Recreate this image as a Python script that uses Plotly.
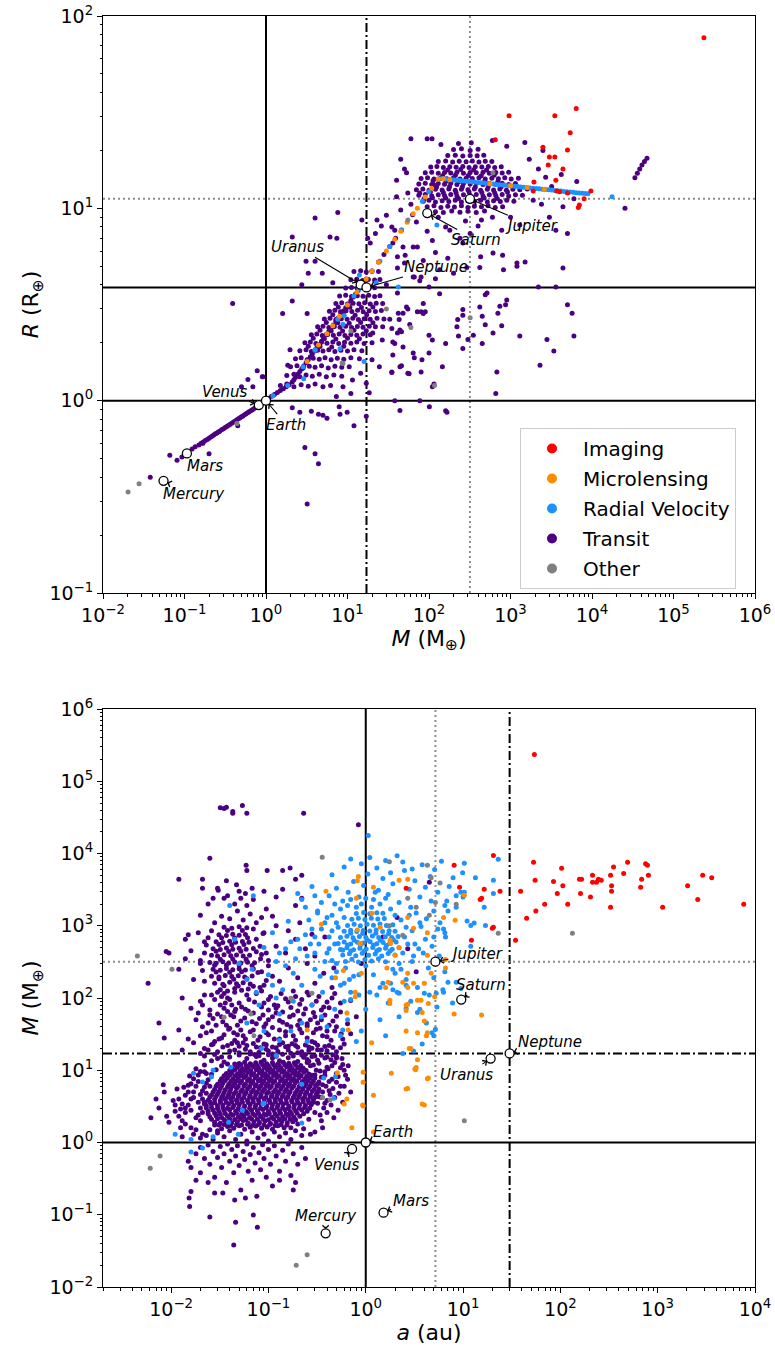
import numpy as np
import plotly.graph_objects as go

FONT = "DejaVu Sans, sans-serif"

method_names = ["Imaging", "Microlensing", "Radial Velocity", "Transit", "Other"]
method_colors = ["#ff0000", "#ff8c00", "#1e90ff", "#4b0082", "#808080"]

# Solar System reference bodies
planet_names = ["Mercury", "Venus", "Earth", "Mars", "Jupiter", "Saturn", "Uranus", "Neptune"]
planet_mass = [0.0553, 0.815, 1.0, 0.107, 317.8, 95.2, 14.5, 17.1]
planet_radius = [0.383, 0.949, 1.0, 0.532, 11.21, 9.45, 4.01, 3.88]
planet_a = [0.387, 0.723, 1.0, 1.524, 5.20, 9.58, 19.2, 30.1]

# reference lines (Earth / Neptune / Jupiter values)
top_vlines = [(1.0, "solid"), (17.1, "dashdot"), (317.8, "dot")]
top_hlines = [(1.0, "solid"), (3.88, "solid"), (11.21, "dot")]
bot_vlines = [(1.0, "solid"), (5.2, "dot"), (30.1, "dashdot")]
bot_hlines = [(1.0, "solid"), (17.1, "dashdot"), (317.8, "dot")]

# ---------------- TOP PANEL: (mass, radius) ----------------
top_transit_line = [
 (0.124,0.56),(0.135,0.576),(0.15,0.589),(0.16,0.6),(0.17,0.61),(0.18,0.62),(0.19,0.629),(0.2,0.638),
 (0.21,0.647),(0.22,0.655),(0.23,0.664),(0.24,0.672),(0.25,0.679),(0.26,0.687),(0.27,0.694),(0.285,0.705),
 (0.3,0.715),(0.315,0.725),(0.33,0.734),(0.345,0.743),(0.36,0.752),(0.38,0.764),(0.4,0.774),(0.42,0.785),
 (0.44,0.795),(0.46,0.805),(0.48,0.815),(0.5,0.824),(0.52,0.833),(0.545,0.844),(0.57,0.855),(0.595,0.865),
 (0.62,0.875),(0.65,0.887),(0.68,0.898),(0.71,0.909),(0.74,0.92),(0.77,0.93),(0.8,0.94),(0.83,0.95),
 (0.86,0.959),(0.92,0.977),(1.0,1.0),(1.08,1.03),(1.17,1.053),(1.27,1.078),(1.38,1.103),(1.5,1.129),
 (1.63,1.155),(1.77,1.182),(1.92,1.21),(2.1,1.251),(2.2,1.285),(2.3,1.32),(2.45,1.37),(2.6,1.419),
 (2.75,1.466),(2.9,1.513),(3.1,1.573),(3.3,1.632),(3.5,1.69),(3.7,1.746),(3.95,1.815),(4.2,1.881),
 (4.5,1.96),(4.8,2.035),(5.1,2.11),(5.5,2.206),(5.9,2.298),(6.3,2.389),(6.7,2.477),(7.2,2.585),
 (7.7,2.688),(8.3,2.81),(8.9,2.929),(9.5,3.043),(10.2,3.173),(11,3.318),(11.8,3.457),(12.5,3.577),
 (13.5,3.743),(14.5,3.9),(15.7,4.09),(17,4.286),(20,4.717),(24,5.253),(28,5.752),(33,6.336),(39,6.992),
 (46,7.706),(63,9.27),(87,11.22),(115,13.22),
]
top_transit_small = [
 (0.066,0.52),(0.081,0.49),(0.093,0.51),(0.038,0.4),(0.2,0.53),(0.168,0.6),(0.45,0.74),(0.78,1.43),
 (0.6,1.29),(0.69,1.18),(0.92,1.33),(0.5,1.18),(2.1,0.92),(3.0,0.57),(4.0,0.53),(4.4,0.47),(3.2,0.29),
 (3.6,0.88),(12,0.74),(8.1,0.85),(17,0.83),(4.4,0.85),(5.0,0.84),(5.6,0.81),(7.9,0.93),(9.9,0.87),
 (2.6,0.87),(0.39,3.2),
]
top_transit_hj = [
 (120,9.6),(150,9.5),(190,9.7),(240,9.55),(300,9.65),(380,9.5),(480,9.7),
 (95,10.2),(115,10.3),(140,10.1),(170,10.25),(205,10.15),(250,10.3),(300,10.1),(360,10.25),(440,10.2),(530,10.3),(650,10.1),(800,10.2),
 (85,10.9),(100,11.0),(120,10.8),(145,10.95),(175,10.85),(210,11.0),(250,10.8),(300,10.95),(360,10.9),(430,11.0),(520,10.8),(620,10.95),(750,10.85),(900,11.0),(1100,10.9),
 (75,11.7),(90,11.8),(108,11.6),(130,11.75),(155,11.65),(185,11.8),(220,11.6),(265,11.75),(320,11.7),(380,11.8),(460,11.6),(550,11.75),(660,11.65),(790,11.8),(950,11.6),(1150,11.75),(1400,11.7),
 (70,12.5),(84,12.6),(100,12.4),(120,12.55),(145,12.45),(175,12.6),(210,12.4),(250,12.55),(300,12.5),(360,12.6),(430,12.4),(520,12.55),(620,12.45),(740,12.6),(890,12.4),(1070,12.55),(1300,12.5),(1600,12.6),
 (75,13.4),(90,13.5),(108,13.3),(130,13.45),(155,13.35),(185,13.5),(220,13.3),(265,13.45),(320,13.4),(380,13.5),(460,13.3),(550,13.45),(660,13.35),(790,13.5),(950,13.3),(1150,13.45),
 (80,14.3),(96,14.4),(115,14.2),(138,14.35),(165,14.25),(200,14.4),(240,14.2),(285,14.35),(340,14.3),(410,14.4),(490,14.2),(590,14.35),(710,14.25),(850,14.4),(1020,14.2),(1250,14.35),
 (90,15.3),(108,15.4),(130,15.2),(155,15.35),(185,15.25),(220,15.4),(265,15.2),(320,15.35),(380,15.3),(460,15.4),(550,15.2),(660,15.35),(790,15.25),(950,15.4),
 (105,16.4),(125,16.5),(150,16.3),(180,16.45),(215,16.35),(260,16.5),(310,16.3),(370,16.45),(445,16.4),(535,16.5),(640,16.3),(770,16.45),
 (130,17.5),(160,17.6),(195,17.4),(235,17.55),(285,17.45),(340,17.6),(410,17.4),(490,17.55),(590,17.5),
 (170,18.8),(210,18.9),(260,18.7),(320,18.85),(390,18.75),(470,18.9),
 (200,20.2),(250,20.4),(320,20.0),(400,20.3),
 (230,21.7),(330,21.9),
]
top_transit_hj_mid = [
 (110,11.35),(160,11.3),(230,11.25),(330,11.35),(475,11.3),(685,11.25),
 (104,12.15),(150,12.1),(215,12.05),(310,12.15),(445,12.1),(640,12.05),(920,12.15),
 (124,12.9),(179,13.0),(257,12.95),(370,12.9),(533,13.0),(768,12.95),
 (112,13.9),(162,13.85),(234,13.8),(336,13.9),(484,13.85),(700,13.8),
 (147,14.75),(211,14.85),(304,14.8),(438,14.75),(630,14.85),
 (170,15.8),(245,15.9),(353,15.85),(508,15.8),
]
top_transit_cloud = [
 (1.5,1.2),(1.8,1.22),(2.2,1.18),(2.7,1.21),(3.3,1.19),(4.0,1.22),(5.0,1.18),(6.2,1.2),
 (1.8,1.35),(2.2,1.37),(2.6,1.33),(3.1,1.36),(3.7,1.34),(4.5,1.37),(5.5,1.33),(6.8,1.36),(8.5,1.34),
 (2.0,1.5),(2.4,1.52),(2.85,1.48),(3.4,1.51),(4.0,1.49),(4.8,1.52),(5.8,1.48),(7.0,1.51),(8.5,1.49),(10.5,1.5),
 (2.3,1.65),(2.7,1.67),(3.2,1.63),(3.8,1.66),(4.5,1.64),(5.3,1.67),(6.3,1.63),(7.5,1.66),(9.0,1.64),(11,1.67),(14,1.65),
 (2.6,1.82),(3.1,1.84),(3.6,1.8),(4.3,1.83),(5.0,1.81),(5.9,1.84),(7.0,1.8),(8.3,1.83),(10,1.81),(12,1.84),(15,1.82),
 (3.0,2.0),(3.5,2.02),(4.1,1.98),(4.8,2.01),(5.6,1.99),(6.6,2.02),(7.8,1.98),(9.2,2.01),(11,1.99),(13,2.02),(16,1.98),(20,2.0),
 (3.6,2.2),(4.2,2.22),(4.9,2.18),(5.7,2.21),(6.7,2.19),(7.9,2.22),(9.3,2.18),(11,2.21),(13,2.19),(15.5,2.22),(19,2.2),
 (4.3,2.42),(5.0,2.44),(5.9,2.4),(6.9,2.43),(8.1,2.41),(9.5,2.44),(11.2,2.4),(13.2,2.43),(15.5,2.41),(18.5,2.44),(22,2.42),
 (5.2,2.66),(6.1,2.68),(7.2,2.64),(8.4,2.67),(9.9,2.65),(11.6,2.68),(13.6,2.64),(16,2.67),(19,2.65),(23,2.68),(28,2.66),
 (6.0,2.92),(7.0,2.95),(8.2,2.9),(9.6,2.93),(11.3,2.91),(13.3,2.95),(15.6,2.9),(18.4,2.93),(22,2.91),(26,2.94),
 (7.2,3.2),(8.5,3.23),(10,3.18),(11.7,3.21),(13.8,3.19),(16.2,3.23),(19,3.18),(22.5,3.21),(27,3.2),
 (8.0,3.5),(9.5,3.53),(11.2,3.48),(13.2,3.51),(15.5,3.49),(18.2,3.53),(21.5,3.48),(25,3.51),
 (9.5,3.85),(11.2,3.88),(13.2,3.83),(15.5,3.86),(18.3,3.84),(21.5,3.87),
 (11,4.25),(13,4.28),(15.3,4.22),(18,4.26),(21.5,4.24),(25,4.27),
 (12,4.7),(14.5,4.73),(17,4.67),(20,4.71),(24,4.69),
]
top_transit_cloud_mid = [
 (3.3,1.92),(4.6,1.91),(6.4,1.9),(9.0,1.92),
 (3.8,2.11),(5.2,2.1),(7.2,2.09),(10,2.11),(14,2.1),
 (4.6,2.32),(6.3,2.31),(8.7,2.3),(12,2.32),(17,2.31),
 (5.5,2.55),(7.6,2.54),(10.5,2.53),(14.5,2.55),(20.5,2.54),
 (6.6,2.8),(9.0,2.79),(12.4,2.78),(17.2,2.8),
 (7.7,3.07),(10.7,3.06),(14.8,3.05),(20.5,3.07),
]
top_transit_sparse = [
 (109,23),(53,15.3),(38,7.7),(77,12),(6500,13.8),(25400,10),(33600,14.4),(36000,15.2),(38500,16),
 (41000,16.8),(44000,17.5),(47300,18.2),(4400,10.2),(4400,4.9),(5000,3.15),(5700,2.85),(3600,3.9),
 (2200,3.9),(1510,5.26),(1200,5.0),(800,5.7),(780,7.7),(430,5.6),(280,8.6),(440,8.7),(170,5.5),
 (120,5.9),(72,6.3),(51,5.7),(41,5.6),(66,4.4),(80,4.4),(120,4.3),(490,3.55),(260,2.98),(225,2.64),
 (740,3.1),(870,3.15),(450,2.75),(490,2.48),
 (6000,2.17),(2800,2.08),(3400,1.81),(2300,1.53),(1300,2.17),(700,2.85),(780,2.45),(610,2.25),
 (450,1.98),(680,1.41),(660,1.09),(350,2.19),(300,2.08),(230,2.17),(260,1.87),(160,1.98),(115,1.22),
 (160,0.885),(100,2.19),(110,2.07),(100,1.77),(80,1.41),(66,1.67),(57,1.38),(46,1.52),(35,1.4),
 (36,1.73),(42,2.85),(48,2.85),(55,3.0),(43,2.64),(46,2.28),(41,2.25),(35,2.37),(33,2.65),(38,1.98),
 (80,2.9),(90,2.9),(85,3.2),
 (4.0,8.9),(7.6,9.5),(2.1,7.1),(6.1,7.1),(7.4,7.0),(4.0,5.3),(3.3,4.6),(2.75,4.0),(4.9,4.6),(6.6,4.1),
 (1.6,2.84),(15,8.7),(23,8.7),(17.7,7.0),(3.1,5.3),(2.1,3.3),(3.2,2.84),(1.97,1.84),(1.85,1.53),(0.9,1.33),
 (30,4.0),(41,3.63),(53,3.07),(72,2.9),(85,2.84),(58,2.49),(44,2.33),(27,2.42),(20.4,2.25),(26.7,2.07),
 (36,2.02),(48,1.9),(64,1.77),(82,1.63),(20,1.63),(24.6,1.5),(35,1.41),(44,1.5),(55,1.39),(14.5,1.39),
 (11.5,1.28),(17,1.23),(11,1.09),(8.8,1.18),(7.3,1.05),(18.5,1.1),(38,1.0),(44,0.89),(77,1.0),(101,0.93),
 (166,0.87),(110,1.18),(146,1.5),(220,2.42),(260,2.78),(420,3.07),(515,3.63),(900,3.34),(820,4.8),
 (1200,5.2),(610,5.85),(420,4.93),(290,4.93),(200,4.6),(135,4.8),(135,3.6),(100,3.9),(77,4.2),(64,4.4),
 (85,5.35),(50,5.2),(41,4.9),(64,6.3),(48,6.3),(36,6.6),(110,6.8),(180,7.7),(260,6.6),
 (2500,20),(1700,18),(2200,16),(2700,14.5),(1900,11),(2400,10.5),(3200,13),(4200,15),(1500,22),
 (900,21),(600,22.5),(60,23),(95,23),(140,21.5),(50,16),(45,18),(40,14),(55,12),(3000,9),(6000,11.2),
 (5000,7.4),(3600,7.7),(30,9.2),(26,8.1),(22,7.4),(19,6.6),(35,8.0),(45,9.8),(60,10.5),(40,11.5),
 (70,8.5),(95,7.6),(130,9.0),(160,8.0),(240,7.0),(320,7.4),(400,8.1),(600,9.0),(1000,9.0),(1300,8.2),
]
top_rv = [
 (1.22,1.06),(1.85,1.2),(2.85,1.5),(4.0,1.83),(7.6,2.65),(12,3.5),(13.8,3.8),(20,4.72),(33,6.34),
 (46,7.7),(83,10.9),(100,12.2),(130,14.2),
 (140,14.27),(150,14.23),(160,14.19),(175,14.13),(190,14.08),(205,14.04),(220,13.99),(240,13.94),
 (260,13.89),(285,13.84),(310,13.78),(335,13.74),(365,13.69),(400,13.63),(435,13.58),(475,13.53),
 (520,13.47),(565,13.42),(615,13.37),(670,13.32),(730,13.27),(800,13.22),(870,13.17),(950,13.12),
 (1040,13.07),(1130,13.02),(1230,12.97),(1340,12.92),(1460,12.87),(1600,12.82),(1740,12.77),
 (1900,12.72),(2070,12.68),(2260,12.63),(2460,12.58),(2690,12.53),(2930,12.49),(3200,12.44),
 (3490,12.39),(3800,12.34),(4150,12.3),(4520,12.25),(4930,12.2),(5380,12.15),(5870,12.11),
 (6400,12.06),(6980,12.02),(7610,11.97),(8300,11.93),(8900,11.89),(17600,11.5),
 (125,8.2),(22.5,4.1),(9.1,2.76),(42,3.9),(8.8,2.5),(4.0,1.84),(2.9,1.3),(16,1.6),(8.1,1.86),
 (14,4.5),(25,5.3),
]
top_micro = [
 (3.2,1.6),(4.4,1.95),(5.6,2.23),(6.6,2.45),(8,2.75),(10,3.14),(13,3.66),(17,4.29),(20,4.72),
 (24,5.25),(30,6.0),(38,6.9),(45,7.6),(54,8.47),(64,9.36),(72,10.0),(90,11.45),(108,12.7),(130,14.2),
 (150,14.23),(180,14.1),(560,13.43),(1000,13.1),(1600,12.82),(2600,12.55),
]
top_imaging = [
 (236000,77),(960,30.3),(3500,30.3),(6400,33),(5400,24.7),(5000,20.1),(650,22.7),(2500,20.8),
 (3000,18.5),(3500,18.5),(2900,16.8),(4400,16),(3600,14),(1940,13.7),(1900,12.3),(3700,12.3),
 (4000,12.2),(5000,12.0),(9700,12.3),(8000,11.2),(7000,10.4),(6800,10.1),
]
top_other = [
 (0.0203,0.335),(0.0277,0.37),(0.44,0.76),(8.6,1.57),(30,3.0),(11,2.3),(60,2.4),(117,1.2),
 (320,2.7),(55,8.7),(8.8,1.56),(610,15.3),
]

# ---------------- BOTTOM PANEL: (semi-major axis, mass) ----------------
bot_transit_core = [
 (0.033,1.55),(0.038,1.66),(0.044,1.58),(0.05,1.7),(0.057,1.52),(0.065,1.63),(0.074,1.69),(0.085,1.57),(0.097,1.64),(0.11,1.53),(0.125,1.71),(0.145,1.6),
 (0.028,1.9),(0.032,1.84),(0.037,1.96),(0.042,1.87),(0.048,1.93),(0.055,2.01),(0.062,1.85),(0.071,1.94),(0.081,1.89),(0.092,1.98),(0.105,1.83),(0.12,1.91),(0.137,1.96),(0.156,1.87),(0.178,1.93),
 (0.025,2.28),(0.029,2.35),(0.033,2.22),(0.038,2.31),(0.043,2.38),(0.049,2.25),(0.056,2.33),(0.064,2.21),(0.073,2.36),(0.083,2.29),(0.095,2.4),(0.108,2.24),(0.123,2.32),(0.14,2.27),(0.16,2.37),(0.183,2.23),(0.21,2.3),
 (0.024,2.7),(0.027,2.82),(0.031,2.68),(0.035,2.77),(0.04,2.85),(0.046,2.71),(0.052,2.79),(0.059,2.66),(0.067,2.8),(0.077,2.74),(0.088,2.86),(0.1,2.69),(0.114,2.78),(0.13,2.72),(0.148,2.84),(0.168,2.67),(0.19,2.76),(0.22,2.81),(0.25,2.7),
 (0.023,3.25),(0.026,3.38),(0.03,3.22),(0.034,3.31),(0.039,3.4),(0.044,3.24),(0.05,3.34),(0.057,3.19),(0.065,3.36),(0.074,3.28),(0.084,3.42),(0.096,3.23),(0.11,3.33),(0.125,3.27),(0.142,3.39),(0.162,3.2),(0.185,3.3),(0.21,3.37),(0.24,3.26),(0.275,3.32),
 (0.024,3.85),(0.028,3.97),(0.032,3.82),(0.036,3.93),(0.041,4.02),(0.047,3.84),(0.053,3.95),(0.061,3.8),(0.069,3.99),(0.079,3.88),(0.09,4.04),(0.102,3.83),(0.117,3.94),(0.133,3.87),(0.152,4.0),(0.173,3.81),(0.197,3.91),(0.225,3.98),(0.256,3.86),(0.29,3.93),
 (0.026,4.55),(0.03,4.68),(0.034,4.5),(0.039,4.63),(0.044,4.74),(0.05,4.52),(0.057,4.66),(0.065,4.48),(0.074,4.7),(0.084,4.58),(0.096,4.76),(0.109,4.51),(0.124,4.64),(0.142,4.56),(0.162,4.72),(0.185,4.49),(0.21,4.61),(0.24,4.69),(0.27,4.54),(0.31,4.62),
 (0.028,5.4),(0.032,5.58),(0.036,5.36),(0.041,5.52),(0.047,5.65),(0.054,5.38),(0.061,5.55),(0.07,5.33),(0.08,5.6),(0.091,5.45),(0.103,5.68),(0.118,5.37),(0.134,5.53),(0.153,5.43),(0.174,5.62),(0.198,5.34),(0.226,5.5),(0.258,5.59),(0.294,5.41),(0.33,5.5),
 (0.03,6.4),(0.034,6.62),(0.039,6.35),(0.045,6.55),(0.051,6.7),(0.058,6.38),(0.066,6.58),(0.075,6.32),(0.086,6.64),(0.098,6.46),(0.111,6.72),(0.127,6.37),(0.145,6.56),(0.165,6.44),(0.188,6.66),(0.214,6.33),(0.244,6.52),(0.278,6.61),(0.32,6.42),
 (0.033,7.6),(0.038,7.85),(0.043,7.52),(0.049,7.75),(0.056,7.95),(0.064,7.55),(0.073,7.8),(0.083,7.48),(0.094,7.88),(0.107,7.65),(0.122,7.96),(0.139,7.54),(0.159,7.77),(0.181,7.62),(0.206,7.9),(0.235,7.5),(0.268,7.72),(0.3,7.83),
 (0.037,9.0),(0.042,9.3),(0.048,8.9),(0.055,9.2),(0.062,9.4),(0.071,8.95),(0.081,9.25),(0.092,8.85),(0.105,9.35),(0.12,9.05),(0.137,9.45),(0.156,8.92),(0.178,9.2),(0.203,9.02),(0.231,9.36),(0.26,8.88),
 (0.042,10.6),(0.048,11.0),(0.054,10.5),(0.062,10.9),(0.07,11.2),(0.08,10.6),(0.091,10.95),(0.104,10.45),(0.118,11.05),(0.135,10.7),(0.154,11.15),(0.175,10.55),(0.2,10.85),(0.228,10.65),
 (0.05,12.4),(0.057,12.9),(0.065,12.3),(0.074,12.7),(0.084,13.0),(0.096,12.35),(0.11,12.8),(0.125,12.2),(0.142,12.9),(0.162,12.5),(0.185,12.75),
]
bot_transit_core_mid = [
 (0.031,1.75),(0.035,1.78),(0.041,1.72),(0.047,1.76),(0.053,1.74),(0.061,1.79),(0.069,1.73),(0.079,1.77),(0.09,1.74),(0.103,1.78),(0.117,1.72),(0.135,1.76),(0.155,1.75),
 (0.026,2.1),(0.03,2.13),(0.035,2.07),(0.04,2.12),(0.045,2.08),(0.052,2.14),(0.059,2.06),(0.067,2.11),(0.077,2.09),(0.088,2.13),(0.1,2.07),(0.113,2.12),(0.129,2.08),(0.147,2.14),(0.167,2.1),(0.19,2.06),
 (0.024,2.5),(0.028,2.54),(0.032,2.47),(0.036,2.52),(0.041,2.48),(0.047,2.55),(0.053,2.46),(0.061,2.51),(0.069,2.49),(0.079,2.53),(0.09,2.47),(0.102,2.52),(0.117,2.48),(0.133,2.55),(0.152,2.5),(0.173,2.46),(0.197,2.53),(0.23,2.49),
 (0.023,3.0),(0.026,3.05),(0.03,2.96),(0.034,3.02),(0.038,2.98),(0.043,3.06),(0.049,2.95),(0.056,3.01),(0.064,2.99),(0.073,3.04),(0.083,2.97),(0.095,3.03),(0.108,2.98),(0.123,3.06),(0.14,3.0),(0.16,2.95),(0.182,3.03),(0.207,2.99),(0.236,3.05),(0.265,2.97),
 (0.022,3.6),(0.025,3.66),(0.028,3.55),(0.032,3.62),(0.037,3.58),(0.042,3.67),(0.048,3.54),(0.054,3.61),(0.062,3.59),(0.07,3.65),(0.08,3.56),(0.091,3.63),(0.104,3.58),(0.118,3.67),(0.135,3.6),(0.153,3.55),(0.175,3.64),(0.2,3.59),(0.228,3.66),(0.26,3.57),(0.29,3.62),
 (0.025,4.25),(0.029,4.32),(0.033,4.2),(0.038,4.28),(0.043,4.23),(0.049,4.33),(0.056,4.18),(0.064,4.27),(0.073,4.24),(0.083,4.31),(0.094,4.21),(0.107,4.29),(0.122,4.23),(0.139,4.33),(0.158,4.25),(0.18,4.19),(0.206,4.3),(0.235,4.24),(0.268,4.32),(0.3,4.22),
 (0.027,5.0),(0.031,5.08),(0.035,4.94),(0.04,5.04),(0.046,4.98),(0.052,5.1),(0.059,4.92),(0.067,5.03),(0.077,4.99),(0.087,5.07),(0.1,4.95),(0.113,5.05),(0.129,4.98),(0.147,5.1),(0.167,5.0),(0.19,4.93),(0.217,5.06),(0.247,4.99),(0.282,5.08),(0.32,4.96),
 (0.029,6.0),(0.033,6.1),(0.038,5.92),(0.043,6.05),(0.049,5.97),(0.056,6.12),(0.064,5.9),(0.073,6.04),(0.083,5.99),(0.094,6.08),(0.107,5.94),(0.122,6.06),(0.14,5.97),(0.159,6.12),(0.181,6.0),(0.206,5.91),(0.235,6.07),(0.268,5.99),(0.305,6.09),
 (0.032,7.1),(0.036,7.22),(0.041,7.0),(0.047,7.15),(0.053,7.06),(0.061,7.24),(0.069,6.98),(0.079,7.14),(0.09,7.08),(0.102,7.2),(0.116,7.02),(0.133,7.17),(0.151,7.06),(0.172,7.24),(0.196,7.1),(0.223,6.99),(0.254,7.18),(0.29,7.06),
 (0.035,8.4),(0.04,8.55),(0.045,8.3),(0.052,8.48),(0.059,8.36),(0.067,8.58),(0.076,8.27),(0.087,8.45),(0.099,8.38),(0.113,8.52),(0.129,8.31),(0.147,8.49),(0.167,8.36),(0.19,8.57),(0.217,8.4),(0.247,8.28),(0.28,8.5),
 (0.04,9.9),(0.045,10.1),(0.051,9.8),(0.058,10.0),(0.066,9.85),(0.075,10.15),(0.086,9.75),(0.098,9.98),(0.112,9.88),(0.127,10.08),(0.145,9.8),(0.165,10.02),(0.188,9.86),(0.214,10.12),(0.244,9.9),
 (0.046,11.7),(0.052,11.9),(0.059,11.55),(0.067,11.8),(0.077,11.65),(0.087,11.95),(0.1,11.5),(0.113,11.78),(0.129,11.62),(0.147,11.88),(0.168,11.55),(0.19,11.82),(0.215,11.68),
]
bot_transit_ring = [
 (0.012,2.3),(0.013,3.4),(0.014,1.8),(0.015,5.0),(0.016,2.8),(0.017,4.2),(0.018,1.5),(0.019,7.0),(0.02,3.0),
 (0.021,1.3),(0.022,9.5),(0.018,10.5),(0.016,6.5),(0.014,4.5),(0.013,1.2),(0.0125,2.9),(0.011,2.7),(0.02,1.15),
 (0.023,1.25),(0.022,11.8),(0.026,13.5),(0.03,14.5),(0.027,1.1),(0.0155,8.3),(0.0095,1.9),(0.0105,3.8),
 (0.0115,5.5),(0.007,4.0),(0.0075,3.0),(0.0085,5.0),(0.009,2.3),(0.0062,2.2),(0.0083,6.3),(0.02,2.0),
 (0.021,4.0),(0.022,5.8),(0.019,3.6),(0.024,7.4),(0.026,8.8),(0.029,10.2),(0.033,11.5),(0.038,12.2),
 (0.025,6.0),(0.023,4.8),(0.028,1.75),(0.03,1.45),
 (0.013,2.0),(0.014,2.6),(0.015,3.3),(0.016,4.0),(0.017,5.0),(0.018,6.0),(0.019,2.4),(0.02,4.6),
 (0.021,5.2),(0.019,8.6),(0.02,9.6),(0.017,7.6),(0.015,6.2),(0.014,3.0),(0.016,1.6),(0.018,2.2),
 (0.021,2.6),(0.022,3.4),(0.017,1.3),(0.012,4.0),(0.011,3.3),(0.0135,5.8),(0.0125,1.6),(0.023,9.0),(0.023,6.6),
 (0.35,2.0),(0.38,3.5),(0.42,5.2),(0.45,7.5),(0.5,9.0),(0.55,6.0),(0.4,11.0),(0.33,12.5),(0.36,1.6),
 (0.48,4.2),(0.6,10.0),(0.52,2.8),(0.44,14.0),(0.65,7.5),(0.7,5.0),(0.38,8.5),(0.32,13.8),(0.3,1.4),
 (0.27,1.3),(0.58,12.0),(0.3,2.6),(0.33,4.3),(0.36,6.3),(0.34,9.8),(0.27,11.5),(0.25,12.8),(0.23,1.55),
 (0.26,2.1),(0.2,1.8),(0.17,1.6),
 (0.34,2.4),(0.37,3.0),(0.4,3.8),(0.43,4.6),(0.46,5.6),(0.5,6.8),(0.36,5.0),(0.39,6.0),(0.42,7.0),
 (0.35,8.0),(0.38,9.5),(0.41,10.5),(0.45,11.5),(0.48,12.8),(0.52,8.2),(0.55,10.8),(0.33,6.9),(0.31,10.0),
 (0.29,11.8),(0.26,13.3),(0.3,8.6),(0.32,3.5),(0.35,4.2),(0.4,2.6),(0.44,3.3),(0.47,2.2),(0.53,4.8),
 (0.58,3.6),(0.6,6.0),(0.62,8.5),(0.66,11.5),(0.57,14.5),(0.5,15.5),(0.38,14.8),(0.3,15.8),(0.23,15.1),
 (0.06,14.5),(0.075,15.5),(0.09,13.8),(0.11,14.8),(0.13,13.5),(0.16,14.9),(0.2,13.2),(0.25,14.1),
 (0.04,15.2),(0.035,13.0),(0.045,12.2),
 (0.03,1.35),(0.035,1.2),(0.04,1.45),(0.046,1.1),(0.052,1.3),(0.06,1.05),(0.068,1.4),(0.078,1.15),
 (0.09,1.3),(0.1,1.05),(0.115,1.4),(0.13,1.2),(0.15,1.35),(0.17,1.1),(0.19,1.45),(0.22,1.25),(0.025,1.5),
]
bot_transit_low = [
 (0.015,0.55),(0.016,0.45),(0.018,0.7),(0.02,0.85),(0.02,0.38),(0.022,0.6),(0.024,0.92),(0.025,0.5),
 (0.027,0.75),(0.028,0.33),(0.03,0.62),(0.032,0.88),(0.033,0.45),(0.035,0.7),(0.037,0.28),(0.038,0.95),
 (0.04,0.55),(0.042,0.8),(0.044,0.38),(0.046,0.65),(0.048,0.9),(0.05,0.48),(0.052,0.22),(0.055,0.75),
 (0.057,0.58),(0.06,0.95),(0.062,0.4),(0.065,0.68),(0.068,0.3),(0.07,0.85),(0.073,0.52),(0.076,0.18),
 (0.08,0.72),(0.083,0.42),(0.087,0.93),(0.09,0.6),(0.095,0.33),(0.1,0.8),(0.105,0.5),(0.11,0.25),
 (0.115,0.9),(0.12,0.65),(0.13,0.4),(0.14,0.78),(0.15,0.55),(0.16,0.95),(0.17,0.35),(0.18,0.7),
 (0.2,0.5),(0.22,0.85),(0.24,0.6),(0.19,0.28),(0.045,0.16),(0.034,0.2),(0.025,0.093),(0.046,0.079),
 (0.044,0.038),(0.07,0.099),(0.077,0.067),(0.058,0.17),(0.0153,0.17),(0.0155,0.13),(0.016,0.21),
 (0.028,0.2),(0.13,0.3),(0.18,0.22),(0.024,0.28),(0.018,0.3),
]
bot_transit_column = [
 (0.032,130),(0.038,125),(0.045,135),(0.053,128),(0.062,133),
 (0.028,160),(0.034,155),(0.04,165),(0.047,158),(0.055,163),(0.065,156),
 (0.026,200),(0.031,195),(0.036,205),(0.042,198),(0.049,203),(0.057,196),(0.068,202),
 (0.027,250),(0.032,243),(0.037,256),(0.043,247),(0.05,254),(0.058,245),(0.07,252),
 (0.025,310),(0.029,302),(0.034,318),(0.039,306),(0.045,315),(0.052,304),(0.061,313),(0.072,308),
 (0.026,390),(0.03,380),(0.035,398),(0.041,385),(0.047,395),(0.055,382),(0.064,392),
 (0.027,480),(0.032,468),(0.037,492),(0.043,474),(0.05,488),(0.059,471),(0.07,485),
 (0.029,600),(0.034,585),(0.04,612),(0.046,592),(0.054,607),(0.063,590),
 (0.031,750),(0.037,730),(0.043,765),(0.05,740),(0.058,758),
 (0.035,950),(0.042,925),(0.05,970),(0.06,935),
 (0.082,140),(0.095,175),(0.085,230),(0.1,280),(0.083,350),(0.095,420),(0.082,520),(0.075,650),
 (0.088,780),(0.07,900),(0.022,170),(0.021,240),(0.02,330),(0.022,420),(0.023,540),(0.024,680),(0.026,850),
 (0.035,148),(0.049,147),(0.07,146),
 (0.031,184),(0.044,182),(0.06,185),
 (0.029,229),(0.04,227),(0.053,230),(0.078,226),
 (0.028,285),(0.037,283),(0.05,286),(0.068,282),
 (0.032,345),(0.043,347),(0.059,344),
 (0.029,442),(0.039,440),(0.052,444),(0.075,438),
 (0.031,548),(0.042,545),(0.056,550),
 (0.033,680),(0.045,676),(0.061,682),
 (0.038,862),(0.054,858),
]
bot_transit_spread = [
 (0.022,20),(0.03,18),(0.038,22),(0.045,19),(0.055,24),(0.065,18),(0.075,21),(0.09,23),(0.1,18.5),
 (0.12,20.5),(0.14,24),(0.16,19),(0.19,22),(0.22,18),(0.26,21),(0.3,24),(0.35,19),(0.42,22),(0.5,18),
 (0.6,23),(0.017,24),(0.013,19),(0.028,25),(0.05,17.5),(0.08,17.8),(0.11,16.8),(0.17,17.2),(0.24,16.5),
 (0.02,30),(0.026,35),(0.033,28),(0.04,38),(0.048,31),(0.058,27),(0.07,36),(0.082,29),(0.095,33),
 (0.11,39),(0.13,27),(0.15,34),(0.18,30),(0.21,37),(0.25,28),(0.29,33),(0.34,38),(0.4,29),(0.48,35),
 (0.58,27),(0.7,32),(0.015,27),(0.012,36),(0.0085,28),
 (0.018,50),(0.024,45),(0.03,60),(0.037,42),(0.044,55),(0.052,48),(0.062,66),(0.075,44),(0.088,58),
 (0.1,50),(0.12,62),(0.14,46),(0.165,55),(0.2,42),(0.23,60),(0.27,50),(0.32,45),(0.38,58),(0.46,48),
 (0.55,64),(0.65,44),(0.8,55),(0.0075,45),
 (0.02,90),(0.026,110),(0.032,80),(0.038,100),(0.045,120),(0.053,75),(0.063,95),(0.075,115),(0.09,85),
 (0.105,105),(0.125,78),(0.15,98),(0.18,125),(0.21,82),(0.26,110),(0.31,90),(0.37,75),(0.45,100),
 (0.55,85),(0.016,72),(0.013,100),(0.7,92),
 (0.026,22.5),(0.034,21),(0.042,23.5),(0.05,21.5),(0.06,22),(0.07,23.5),(0.083,20.5),(0.095,22.5),
 (0.11,21),(0.13,22.8),(0.15,21.2),(0.175,23.2),(0.2,20.8),(0.24,22.4),(0.28,20.2),(0.32,22.2),
 (0.38,21.4),(0.46,20.6),
 (0.022,15.8),(0.028,16.5),(0.033,15.2),(0.05,16.2),(0.065,16.8),(0.08,15.9),(0.1,16.4),(0.12,15.6),
 (0.14,16.6),(0.18,15.8),(0.22,16.3),(0.28,15.5),(0.35,16.1),(0.4,15.3),(0.5,14.8),
 (0.021,40),(0.027,52),(0.034,47),(0.041,58),(0.048,42),(0.057,53),(0.068,47),(0.081,52),(0.094,44),
 (0.11,55),(0.13,49),(0.155,43),(0.18,58),(0.21,49),(0.25,44),(0.3,55),(0.35,50),(0.42,42),(0.5,56),
 (0.025,68),(0.035,72),(0.045,65),(0.058,70),(0.07,62),(0.085,75),(0.1,68),(0.12,72),(0.14,64),
 (0.17,74),(0.2,66),(0.24,71),(0.29,63),(0.35,68),(0.42,73),
 (0.045,26),(0.055,30),(0.065,34),(0.078,26),(0.09,40),(0.1,31),(0.115,27),(0.13,36),(0.15,30),
 (0.17,40),(0.19,26),(0.22,33),(0.25,41),(0.28,25),(0.31,37),(0.36,30),(0.4,35),(0.44,26),(0.5,40),(0.56,32),
 (0.05,85),(0.06,110),(0.072,88),(0.085,125),(0.1,95),(0.115,80),(0.135,115),(0.16,88),(0.19,105),
 (0.22,95),(0.25,120),(0.28,80),(0.33,105),(0.4,88),(0.48,115),
 (0.04,18.5),(0.058,19.5),(0.072,16.5),(0.095,19.6),(0.125,18.2),(0.16,21.5),(0.2,17.4),(0.26,18.8),
 (0.32,19.2),(0.4,18.6),(0.46,16.2),(0.55,20.5),
 (0.02,17),(0.024,19),(0.027,23),(0.031,27),(0.035,31),(0.039,37),(0.023,33),(0.029,42),(0.033,55),
 (0.038,65),(0.042,80),(0.028,95),(0.033,105),(0.036,85),(0.025,58),(0.019,62),(0.021,80),(0.022,110),
 (0.03,120),(0.035,115),(0.04,95),(0.044,33),(0.048,24),(0.052,36),(0.046,70),
]
bot_transit_upper = [
 (0.028,1100),(0.033,1350),(0.04,1250),(0.048,1600),(0.055,1200),(0.065,1450),(0.075,1100),(0.045,2000),
 (0.052,2400),(0.06,1900),(0.038,2600),(0.07,2300),(0.085,1300),(0.095,1700),(0.11,1350),(0.05,3000),
 (0.03,3300),(0.024,2000),(0.02,1400),(0.058,2800),(0.12,2500),(0.14,3200),(0.068,3300),(0.09,3000),
 (0.012,4400),(0.021,4400),(0.021,3300),(0.025,8600),(0.0305,3100),(0.037,4200),(0.047,3700),
 (0.059,6900),(0.06,5800),(0.097,5800),(0.14,5800),(0.167,6300),(0.19,4400),(0.22,5000),(0.23,36000),
 (0.84,25000),(0.032,43000),(0.035,42000),(0.037,43500),(0.043,38000),(0.043,36000),(0.054,46000),
 (0.06,36000),(0.19,1900),(0.22,2400),(0.035,2400),(0.027,2400),(0.0058,160),(0.0089,440),(0.014,650),
 (0.015,750),
 (0.09,150),(0.11,200),(0.13,170),(0.16,260),(0.2,190),(0.25,300),(0.3,160),(0.37,220),(0.45,140),
 (0.085,400),(0.1,330),(0.12,520),(0.15,420),(0.19,650),(0.24,480),(0.3,380),(0.38,700),(0.47,260),
 (0.09,800),(0.12,1000),(0.16,850),(0.21,1100),(0.28,760),(0.017,180),(0.02,300),(0.022,600),
 (0.016,450),(0.019,800),(0.014,350),(0.012,250),(0.0095,420),
 (2.7,480),(2.1,1300),(4.5,4000),(3.3,230),(1.5,700),(0.9,300),
]
bot_rv_core = [
 (0.62,320),(0.72,345),(0.84,315),(0.98,340),(1.15,325),(1.35,350),(1.6,318),
 (0.58,395),(0.68,410),(0.79,385),(0.92,415),(1.07,390),(1.25,405),(1.46,380),(1.7,412),(2.0,395),
 (0.55,470),(0.64,495),(0.75,465),(0.87,490),(1.01,475),(1.18,500),(1.38,468),(1.6,488),(1.87,472),(2.2,495),
 (0.52,570),(0.6,595),(0.7,560),(0.82,590),(0.95,575),(1.11,600),(1.3,565),(1.51,585),(1.76,570),(2.05,598),
 (0.55,690),(0.64,715),(0.74,680),(0.86,710),(1.0,695),(1.17,720),(1.36,685),(1.59,705),(1.85,690),(2.15,712),
 (0.6,840),(0.7,865),(0.81,830),(0.94,860),(1.1,845),(1.28,870),(1.49,835),(1.74,855),(2.0,842),
 (0.65,1010),(0.76,1050),(0.88,1000),(1.03,1045),(1.2,1020),(1.4,1060),(1.63,1005),(1.9,1035),
 (0.72,1230),(0.84,1270),(0.98,1220),(1.14,1265),(1.33,1240),(1.55,1260),
 (0.8,1480),(0.95,1520),(1.1,1470),(1.3,1510),(1.5,1490),
 (0.7,448),(0.96,445),(1.3,450),(1.78,446),
 (0.65,540),(0.88,536),(1.2,542),(1.63,534),
 (0.76,632),(1.04,636),(1.41,630),(1.92,638),
 (0.7,785),(0.93,780),(1.27,790),(1.72,778),
]
bot_rv_upper = [
 (0.35,2100),(0.42,2600),(0.5,3300),(0.58,2200),(0.66,2900),(0.75,4100),(0.85,2500),(0.95,3600),
 (1.05,5200),(1.2,2300),(1.35,3100),(1.5,4500),(1.7,2700),(1.9,3800),(2.2,2100),(2.5,5800),(2.8,3200),
 (3.2,4200),(3.6,2500),(4.1,3400),(4.7,2200),(5.5,2900),(6.5,1900),(0.6,6500),(0.9,7200),(1.3,6300),
 (1.8,5400),(2.4,7600),(3.0,6100),(0.45,5100),(0.7,8400),(1.1,8800),(1.6,8000),(2.1,9300),(3.8,7000),
 (0.28,3500),(0.22,2300),(0.32,1600),(4.6,4800),(5.1,6000),(8.5,2600),(7.2,3500),(9.5,2900),(1.06,17800),
 (23,8300),(10.3,7300),(6.0,7800),(9.9,5400),(7.9,4600),(13.4,4600),(20.5,4260),(20.5,2800),(16.5,1800),
 (10.3,2900),(10,2500),(8.5,1800),(6.8,2200),(7.0,1600),(11,1160),(12,1010),(13,1090),(17,1010),
 (12,520),(6.3,900),(6.6,700),(5.0,700),
]
bot_rv_mid = [
 (0.3,700),(0.35,900),(0.4,1300),(0.45,850),(0.5,1100),(0.55,1700),(0.48,2000),(0.6,1300),(0.65,1900),
 (0.7,2300),(0.8,1800),(0.9,2000),(1.0,2400),(1.15,1800),(1.25,2900),(1.4,2000),(1.6,2400),(1.8,1700),
 (2.0,1400),(2.3,1200),(2.6,950),(2.9,1800),(3.3,1500),(3.7,980),(4.2,1250),(5.0,1600),(5.8,1100),
 (6.5,800),(2.4,420),(2.7,560),(3.1,380),(3.5,480),(2.2,300),(2.0,220),(1.8,160),(1.4,140),(1.1,120),
 (0.85,110),(0.7,95),(0.6,160),(0.5,230),(0.45,330),(0.42,480),(0.38,320),(0.34,200),(0.3,420),
 (0.27,560),(0.24,750),(0.21,480),(0.19,350),(0.17,600),(0.15,280),(0.13,420),(0.11,150),(0.12,100),(0.08,80),
]
bot_rv_left = [
 (0.12,320),(0.15,480),(0.18,220),(0.2,650),(0.22,150),(0.25,380),(0.28,900),(0.3,250),(0.33,560),
 (0.36,120),(0.4,420),(0.45,190),(0.5,300),(0.42,700),(0.38,1100),(0.32,1500),(0.26,1200),(0.55,150),
 (0.6,90),(0.48,70),(0.35,55),(0.28,80),(0.22,45),(0.18,90),(0.14,130),(0.1,210),(0.09,500),(0.11,800),
 (0.16,1150),(0.24,1800),(0.3,2600),(0.2,2800),(0.45,1400),(0.52,950),(0.17,35),(0.13,60),(0.25,25),
 (0.4,40),(0.55,30),(0.65,50),(0.7,120),(0.75,200),(0.58,460),(0.48,560),(0.09,35),(0.075,120),
 (0.068,250),(0.06,45),(0.085,20),(0.12,16),(0.62,260),(0.68,180),
]
bot_rv_right = [
 (2.3,250),(2.6,180),(3.0,320),(3.4,140),(3.9,420),(4.4,260),(5.0,190),(5.7,380),(6.5,230),(2.1,120),
 (2.9,90),(3.6,70),(4.5,110),(5.4,75),(6.2,130),(7.0,165),(3.2,560),(4.1,650),(4.8,520),(5.5,900),
 (2.5,700),(3.0,850),(3.6,1100),(2.8,1400),(1.9,250),(1.5,160),(1.2,210),(1.0,280),(0.85,210),(1.3,110),
 (1.7,85),(2.2,55),(4.2,45),(5.0,30),(1.4,50),(1.0,70),(0.9,35),(1.6,30),(8.5,165),(9.5,135),(7.8,85),
 (3.8,23),(2.4,17),(0.8,25),(1.9,130),(2.2,116),(2.6,150),(4.0,116),(5.3,116),(6.3,120),(5.2,37),
 (4.8,33),(2.6,72),(3.4,63),(3.1,18.5),
]
bot_rv_blob = [
 (0.054,2.8),(0.088,3.4),(0.039,1.9),(0.049,1.3),(0.021,0.84),(0.016,0.74),(0.027,1.2),(0.22,1.86),
 (0.22,6.4),(0.37,7.8),(0.026,8.1),(0.027,10.0),(0.021,6.9),(0.017,9.1),(0.041,11),(0.09,3.5),
 (0.49,8.2),(0.47,4.1),(0.13,26),(0.58,36),(0.05,300),(0.06,180),(0.045,650),(0.04,1900),(0.07,2600),
 (0.016,1.1),(0.011,1.3),
]
bot_micro = [
 (8.1,60),(15.5,58),(4.3,33),(3.4,33),(2.6,35),(4.2,30),(2.8,20),(2.9,20),(3.4,14),(3.2,10.4),(3.25,10.2),
 (1.83,9.1),(4.3,7.6),(2.6,5.5),(4.0,3.3),(1.7,165),(3.7,93),(4.4,84),(2.6,80),(1.77,84),(4.0,48),
 (0.84,4800),(0.82,4200),(0.39,3000),(0.35,1050),(0.87,570),(0.82,870),(1.16,1490),(2.2,4260),(2.7,4400),
 (2.7,1300),(3.1,920),(4.3,800),(6.3,1300),(10.3,2640),(8.3,1190),(1.41,950),(1.78,630),(1.8,570),
 (2.0,390),(2.2,500),(1.65,260),(2.4,165),(2.7,140),(3.1,160),(4.0,160),(2.7,220),(4.3,390),(4.7,220),
 (6.6,260),(6.6,340),(5.1,104),(3.4,93),(1.77,93),(2.6,67),(3.8,63),(2.7,82),(0.49,190),(0.59,240),
 (0.78,120),(0.9,220),(0.78,104),(0.25,36),(0.64,62),(0.66,36),(0.94,9.4),(0.94,6.8),(0.93,3.3),
 (0.6,3.4),(0.51,9.2),(0.72,1.6),(1.2,4.5),(3.8,3.4),(2.7,5.6),(4.4,7.8),(3.3,10.9),(1.2,1.4),
 (0.64,4.0),(0.94,3.2),(1.15,24),(0.8,2400),(1.2,3400),(1.6,140),(0.88,570),
]
bot_imaging = [
 (54,235000),(8.1,6900),(9.2,3400),(12.2,630),(15.5,2400),(16.5,3200),(20.5,9400),(20.5,950),(24,3000),
 (34.6,630),(39,3000),(45,1270),(53,7550),(55,4260),(56,1600),(69,1980),(85,4100),(93,2800),(103,6240),
 (106,3570),(119,1980),(161,2800),(157,4400),(165,4400),(204,2500),(214,5000),(214,4000),(235,4000),
 (246,4400),(263,4260),(328,5000),(336,3570),(336,3000),(328,1800),(352,6500),(447,5300),(491,7550),
 (668,3400),(684,4400),(751,7200),(785,6900),(803,5000),(1125,1800),(2030,3570),(2580,2300),(2900,5000),
 (3590,4600),(7660,1980),(2.6,3300),(20,920),(15,2300),
]
bot_other = [
 (0.0045,380),(0.0102,250),(0.357,8900),(0.0061,0.44),(0.0077,0.65),(0.193,0.02),(0.25,0.028),(0.36,4.2),
 (0.43,3.9),(0.035,54),(0.066,60),(0.071,30),(0.17,99),(0.28,116),(10.3,2.0),(133,790),(23,790),
 (4.3,6900),(5.8,3900),(8.5,1980),(4.7,4600),(1.75,7700),(2.7,2400),(3.3,1800),(4.5,1400),(1.75,1000),
 (2.4,740),(5.2,2100),
]

top_series = {
    "Transit": top_transit_line + top_transit_small + top_transit_hj + top_transit_hj_mid
               + top_transit_cloud + top_transit_cloud_mid + top_transit_sparse,
    "Radial Velocity": top_rv,
    "Microlensing": top_micro,
    "Imaging": top_imaging,
    "Other": top_other,
}
bot_series = {
    "Transit": bot_transit_core + bot_transit_core_mid + bot_transit_ring + bot_transit_low
               + bot_transit_column + bot_transit_spread + bot_transit_upper,
    "Radial Velocity": bot_rv_core + bot_rv_upper + bot_rv_mid + bot_rv_left + bot_rv_right + bot_rv_blob,
    "Microlensing": bot_micro,
    "Imaging": bot_imaging,
    "Other": bot_other,
}
draw_order = ["Transit", "Radial Velocity", "Microlensing", "Imaging", "Other"]

# label offsets (pixels) of the Solar-System annotations
top_label_offsets = {"Mercury": (30, 13), "Venus": (-34, -13), "Earth": (20, 24), "Mars": (18, 13),
                     "Jupiter": (62, 27), "Saturn": (49, 27), "Uranus": (-63, -38), "Neptune": (70, -20)}
bot_label_offsets = {"Mercury": (0, -17), "Venus": (-15, 16), "Earth": (27, -11), "Mars": (27, -12),
                     "Jupiter": (41, -8), "Saturn": (20, -15), "Uranus": (-24, 16), "Neptune": (40, -11)}

# ---------------- figure ----------------
W, H = 775, 1349
XD = [103 / W, 755 / W]
YD_TOP = [1 - 593 / H, 1 - 16 / H]
YD_BOT = [1 - 1287 / H, 1 - 709 / H]
color_of = dict(zip(method_names, method_colors))

fig = go.Figure()

def line_style(kind):
    if kind == "solid":
        return dict(color="black", width=2, dash="solid")
    if kind == "dashdot":
        return dict(color="black", width=2, dash="9px,3px,2px,3px")
    return dict(color="#8c8c8c", width=2, dash="2px,3px")

def add_ref_lines(vlines, hlines, xr, yr, xa, ya):
    for v, k in vlines:
        fig.add_trace(go.Scatter(x=[v, v], y=[10 ** yr[0], 10 ** yr[1]], mode="lines", line=line_style(k),
                                 xaxis=xa, yaxis=ya, showlegend=False, hoverinfo="skip"))
    for h, k in hlines:
        fig.add_trace(go.Scatter(x=[10 ** xr[0], 10 ** xr[1]], y=[h, h], mode="lines", line=line_style(k),
                                 xaxis=xa, yaxis=ya, showlegend=False, hoverinfo="skip"))

TOP_XR, TOP_YR = [-2, 6], [-1, 2]
BOT_XR, BOT_YR = [-2.7, 4.0], [-2, 6]

add_ref_lines(top_vlines, top_hlines, TOP_XR, TOP_YR, "x", "y")
add_ref_lines(bot_vlines, bot_hlines, BOT_XR, BOT_YR, "x2", "y2")

for series, xa, ya in [(top_series, "x", "y"), (bot_series, "x2", "y2")]:
    for name in draw_order:
        pts = series[name]
        fig.add_trace(go.Scatter(
            x=[p[0] for p in pts], y=[p[1] for p in pts], mode="markers",
            marker=dict(size=5, color=color_of[name], line=dict(width=0)),
            xaxis=xa, yaxis=ya, showlegend=False, hoverinfo="skip"))

# Solar-System planets
fig.add_trace(go.Scatter(x=planet_mass, y=planet_radius, mode="markers",
                         marker=dict(size=9, color="white", line=dict(color="black", width=1.3)),
                         xaxis="x", yaxis="y", showlegend=False, hoverinfo="skip"))
fig.add_trace(go.Scatter(x=planet_a, y=planet_mass, mode="markers",
                         marker=dict(size=9, color="white", line=dict(color="black", width=1.3)),
                         xaxis="x2", yaxis="y2", showlegend=False, hoverinfo="skip"))

# legend entries
for name in method_names:
    fig.add_trace(go.Scatter(x=[None], y=[None], mode="markers", name=name, legendgroup=name,
                             marker=dict(size=10, color=color_of[name]), xaxis="x", yaxis="y"))

annotations = []
for i, name in enumerate(planet_names):
    ax, ay = top_label_offsets[name]
    annotations.append(dict(x=np.log10(planet_mass[i]), y=np.log10(planet_radius[i]), xref="x", yref="y",
                            text="<i>%s</i>" % name, showarrow=True, ax=ax, ay=ay,
                            arrowhead=4, arrowsize=1.1, arrowwidth=1.1, arrowcolor="black", standoff=4,
                            font=dict(size=15, family=FONT, color="black")))
    ax, ay = bot_label_offsets[name]
    annotations.append(dict(x=np.log10(planet_a[i]), y=np.log10(planet_mass[i]), xref="x2", yref="y2",
                            text="<i>%s</i>" % name, showarrow=True, ax=ax, ay=ay,
                            arrowhead=4, arrowsize=1.1, arrowwidth=1.1, arrowcolor="black", standoff=4,
                            font=dict(size=15, family=FONT, color="black")))

def pow_label(k):
    return "10<sup>%s</sup>" % (("\u2212%d" % -k) if k < 0 else str(k))

def axis_cfg(rng, domain, kmin, kmax, title, anchor, standoff):
    major = [10.0 ** k for k in range(kmin, kmax + 1)]
    minor = []
    for k in range(kmin - 1, kmax + 1):
        for d in range(2, 10):
            v = d * 10.0 ** k
            if rng[0] <= np.log10(v) <= rng[1]:
                minor.append(v)
    return dict(type="log", range=rng, domain=domain, anchor=anchor,
                tickmode="array", tickvals=major, ticktext=[pow_label(k) for k in range(kmin, kmax + 1)],
                ticks="outside", ticklen=5, tickwidth=1, tickcolor="black",
                minor=dict(tickmode="array", tickvals=minor, ticks="outside", ticklen=2.5, tickwidth=0.8,
                           tickcolor="black", showgrid=False),
                showline=True, linecolor="black", linewidth=1, mirror=True,
                showgrid=False, zeroline=False, automargin=False,
                tickfont=dict(size=19, family=FONT, color="black"),
                title=dict(text=title, font=dict(size=22, family=FONT, color="black"), standoff=standoff))

fig.update_layout(
    width=W, height=H, margin=dict(l=0, r=0, t=0, b=0),
    paper_bgcolor="white", plot_bgcolor="white",
    xaxis=axis_cfg(TOP_XR, XD, -2, 6, "<i>M</i> (M<sub>\u2295</sub>)", "y", 4),
    yaxis=axis_cfg(TOP_YR, YD_TOP, -1, 2, "<i>R</i> (R<sub>\u2295</sub>)", "x", 4),
    xaxis2=axis_cfg(BOT_XR, XD, -2, 4, "<i>a</i> (au)", "y2", 4),
    yaxis2=axis_cfg(BOT_YR, YD_BOT, -2, 6, "<i>M</i> (M<sub>\u2295</sub>)", "x2", 4),
    annotations=annotations,
    legend=dict(x=520 / W, y=1 - 428 / H, xanchor="left", yanchor="top", bgcolor="white",
                bordercolor="#cccccc", borderwidth=1, tracegroupgap=1, itemwidth=52,
                font=dict(size=20, family=FONT, color="black")),
    showlegend=True,
)

fig.write_html("out.html")
